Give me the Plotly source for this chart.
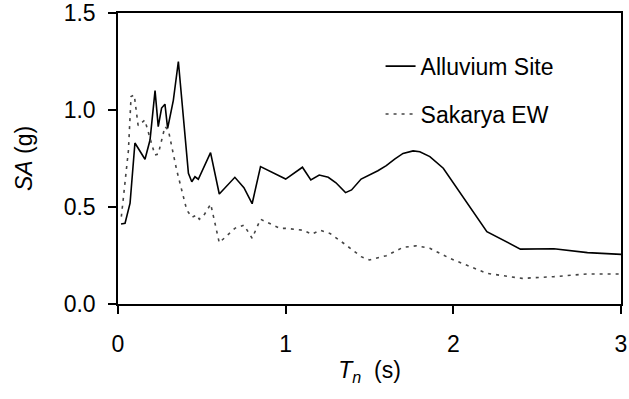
import plotly.graph_objects as go

alluvium_T = [0.018, 0.042, 0.072, 0.101, 0.161, 0.191, 0.221, 0.240, 0.26, 0.28, 0.296, 0.33, 0.36,
              0.39, 0.405, 0.42, 0.44, 0.459, 0.479, 0.552, 0.604, 0.697, 0.751, 0.80, 0.85, 1.00,
              1.10, 1.15, 1.20, 1.254, 1.30, 1.357, 1.393, 1.45, 1.55, 1.60, 1.65, 1.70, 1.76, 1.80,
              1.86, 1.94, 2.20, 2.40, 2.60, 2.80, 3.00]
alluvium_SA = [0.412, 0.416, 0.52, 0.83, 0.746, 0.845, 1.10, 0.914, 1.01, 1.03, 0.905, 1.05, 1.25,
               0.965, 0.83, 0.674, 0.63, 0.656, 0.643, 0.78, 0.567, 0.653, 0.60, 0.517, 0.708, 0.644,
               0.705, 0.639, 0.665, 0.653, 0.625, 0.574, 0.588, 0.644, 0.687, 0.713, 0.747, 0.776, 0.789, 0.785,
               0.76, 0.70, 0.373, 0.283, 0.285, 0.265, 0.256]

sakarya_T = [0.02, 0.062, 0.078, 0.097, 0.12, 0.16, 0.22, 0.24, 0.28, 0.30, 0.35, 0.38, 0.41, 0.44,
             0.47, 0.485, 0.51, 0.553, 0.604, 0.697, 0.751, 0.80, 0.85, 0.966, 1.0, 1.105, 1.155,
             1.205, 1.264, 1.36, 1.45, 1.50, 1.60, 1.70, 1.78, 1.86, 1.98, 2.20, 2.41, 2.60, 2.80, 3.00]
sakarya_SA = [0.45, 0.79, 1.07, 1.077, 0.92, 0.948, 0.768, 0.773, 0.914, 0.897, 0.69, 0.588, 0.485, 0.447,
              0.459, 0.437, 0.454, 0.515, 0.316, 0.39, 0.407, 0.339, 0.437, 0.39, 0.39, 0.38, 0.36,
              0.38, 0.364, 0.304, 0.244, 0.227, 0.249, 0.292, 0.30, 0.287, 0.235, 0.158, 0.132, 0.141, 0.155, 0.155]

x_ticks = [0, 1, 2, 3]
y_ticks = [0.0, 0.5, 1.0, 1.5]

FONT = "Liberation Sans, Arial, sans-serif"
FS = 23

fig = go.Figure()
fig.add_trace(go.Scatter(x=alluvium_T, y=alluvium_SA, mode="lines", name="Alluvium Site",
                         legendgroup="a", line=dict(color="black", width=1.6)))
fig.add_trace(go.Scatter(x=sakarya_T, y=sakarya_SA, mode="lines", name="Sakarya EW",
                         legendgroup="b", line=dict(color="#444444", width=1.6, dash="3px,5px")))

fig.update_layout(
    width=629, height=399,
    margin=dict(l=118, r=8, t=13, b=95, autoexpand=False),
    paper_bgcolor="white", plot_bgcolor="white",
    font=dict(family=FONT, size=FS, color="black"),
    showlegend=True,
    legend=dict(x=0.522, y=0.891, xanchor="left", yanchor="top", bgcolor="rgba(0,0,0,0)",
                font=dict(size=FS), itemwidth=30, tracegroupgap=15, traceorder="grouped"),
    xaxis=dict(range=[0, 3], tickvals=x_ticks, ticktext=[str(v) for v in x_ticks],
               showline=True, linecolor="black", linewidth=1.5, mirror=True,
               ticks="outside", ticklen=8, tickwidth=1.5, tickcolor="black",
               ticklabelstandoff=11, ticklabeloverflow="allow", automargin=False,
               showgrid=False, zeroline=False,
               title=dict(text="<i>T</i><sub><i>n</i></sub>  (s)", font=dict(size=FS), standoff=6)),
    yaxis=dict(range=[0, 1.5], tickvals=y_ticks, ticktext=[f"{v:.1f}" for v in y_ticks],
               showline=True, linecolor="black", linewidth=1.5, mirror=True,
               ticks="outside", ticklen=8, tickwidth=1.5, tickcolor="black",
               ticklabelstandoff=8, ticklabeloverflow="allow", automargin=False,
               showgrid=False, zeroline=False,
               title=dict(text="<i>SA</i> (g)", font=dict(size=FS), standoff=25)),
)

fig.write_html("out.html")
